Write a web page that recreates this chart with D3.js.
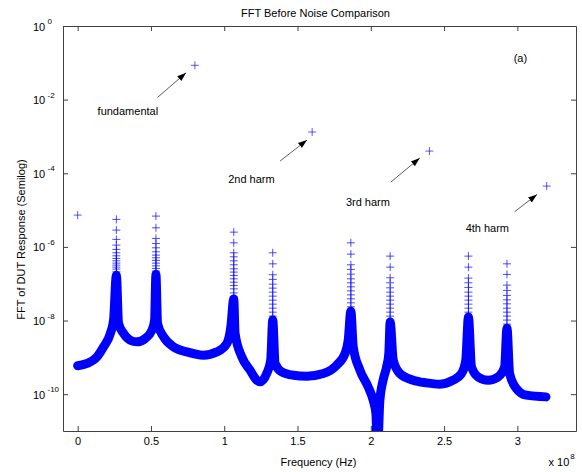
<!DOCTYPE html>
<html>
<head>
<meta charset="utf-8">
<script src="https://cdn.jsdelivr.net/npm/d3@7"></script>
<style>
	body { margin: 0; background: #fff; }
	svg { font-family: "Liberation Sans", Arial, Helvetica, sans-serif; }
</style>
</head>
<body>
<svg id="chart" width="582" height="472"></svg>
<script>
'use strict'

// band of the response (frequency in Hz, magnitude)
const curveFreq = [
	0, 0.064e8, 0.132e8, 0.177e8, 0.223e8, 0.245e8, 0.264e8, 0.279e8, 0.313e8, 0.359e8,
	0.405e8, 0.461e8, 0.507e8, 0.525e8, 0.534e8, 0.545e8, 0.586e8, 0.654e8, 0.745e8, 0.858e8,
	0.950e8, 1.018e8, 1.045e8, 1.065e8, 1.074e8, 1.120e8, 1.176e8, 1.222e8, 1.245e8, 1.290e8,
	1.317e8, 1.331e8, 1.347e8, 1.392e8, 1.471e8, 1.563e8, 1.676e8, 1.767e8, 1.824e8, 1.846e8,
	1.864e8, 1.880e8, 1.926e8, 1.982e8, 2.016e8, 2.035e8, 2.045e8, 2.062e8, 2.084e8, 2.108e8,
	2.123e8, 2.132e8, 2.153e8, 2.198e8, 2.289e8, 2.380e8, 2.471e8, 2.561e8, 2.619e8, 2.648e8,
	2.666e8, 2.687e8, 2.732e8, 2.800e8, 2.868e8, 2.913e8, 2.929e8, 2.947e8, 2.993e8, 3.061e8,
	3.195e8
]
const curveMag = [
	5.94e-10, 6.82e-10, 1.03e-9, 1.93e-9, 4.46e-9, 1.03e-8, 1.71e-7, 8.34e-9, 4.46e-9, 2.93e-9,
	2.64e-9, 3.27e-9, 5.48e-9, 1.03e-8, 1.82e-7, 8.34e-9, 3.61e-9, 1.93e-9, 1.41e-9, 1.15e-9,
	1.41e-9, 2.39e-9, 6.75e-9, 3.82e-8, 4.46e-9, 1.03e-9, 4.49e-10, 2.40e-10, 2.16e-10, 3.65e-10,
	8.39e-10, 1.03e-8, 6.82e-10, 4.04e-10, 3.28e-10, 3.08e-10, 3.65e-10, 6.14e-10, 1.28e-9, 2.93e-9,
	1.80e-8, 1.93e-9, 4.49e-10, 1.58e-10, 6.87e-11, 2.99e-11, 2.5e-12, 6.87e-11, 2.40e-10, 5.52e-10,
	1.28e-9, 9.06e-9, 8.39e-10, 3.65e-10, 2.40e-10, 2.03e-10, 1.87e-10, 2.40e-10, 3.65e-10, 8.39e-10,
	1.24e-8, 5.52e-10, 2.95e-10, 2.40e-10, 2.95e-10, 5.52e-10, 6.21e-9, 3.65e-10, 1.43e-10, 9.40e-11,
	8.45e-11
]

// separate markers climbing each spur
const spurFreq = [0.264e8, 0.534e8, 1.065e8, 1.331e8, 1.864e8, 2.132e8, 2.666e8, 2.929e8]
const spurMarkers = [
	[5.59e-6, 2.86e-6, 1.60e-6, 1.12e-6, 8.55e-7, 6.92e-7, 5.73e-7, 4.87e-7, 4.19e-7, 3.63e-7, 3.20e-7, 2.82e-7, 2.49e-7, 2.11e-7, 1.79e-7],
	[6.87e-6, 3.30e-6, 1.70e-6, 1.24e-6, 9.46e-7, 7.36e-7, 5.98e-7, 5.06e-7, 4.30e-7, 3.63e-7, 3.06e-7, 2.61e-7, 2.20e-7, 1.86e-7],
	[2.52e-6, 1.29e-6, 6.92e-7, 5.38e-7, 4.19e-7, 3.27e-7, 2.54e-7, 2.07e-7, 1.68e-7, 1.36e-7, 1.10e-7, 8.99e-8, 7.26e-8, 5.66e-8, 4.41e-8],
	[6.92e-7, 3.47e-7, 1.75e-7, 1.31e-7, 9.75e-8, 7.59e-8, 5.91e-8, 4.60e-8, 3.58e-8, 2.79e-8, 2.17e-8, 1.69e-8, 1.32e-8, 1.03e-8],
	[1.29e-6, 6.37e-7, 3.27e-7, 2.45e-7, 1.82e-7, 1.36e-7, 1.06e-7, 8.24e-8, 6.41e-8, 4.99e-8, 3.89e-8, 3.03e-8, 2.36e-8, 1.84e-8],
	[5.62e-7, 2.82e-7, 1.45e-7, 1.06e-7, 7.74e-8, 5.91e-8, 4.60e-8, 3.58e-8, 2.79e-8, 2.17e-8, 1.69e-8, 1.32e-8, 1.03e-8],
	[5.62e-7, 2.82e-7, 1.42e-7, 1.06e-7, 7.93e-8, 5.91e-8, 4.60e-8, 3.58e-8, 2.79e-8, 2.17e-8, 1.69e-8, 1.32e-8],
	[3.47e-7, 1.79e-7, 9.16e-8, 6.58e-8, 4.81e-8, 3.65e-8, 2.84e-8, 2.17e-8, 1.69e-8, 1.32e-8, 1.03e-8, 7.98e-9]
]

// DC and the four harmonics
const toneFreq = [0, 0.8e8, 1.6e8, 2.4e8, 3.2e8]
const toneMag = [7.31e-6, 8.55e-2, 1.32e-3, 4.01e-4, 4.49e-5]

const labelText = ['fundamental', '2nd harm', '3rd harm', '4th harm']
const labelFreq = [0.136e8, 1.027e8, 1.830e8, 2.647e8]
const labelMag = [3.82e-3, 5.42e-5, 1.28e-5, 2.52e-6]
const arrowFrom = [[0.545e8, 1.15e-2], [1.381e8, 2.15e-4], [2.137e8, 5.77e-5], [2.981e8, 8.99e-6]]
const arrowTo = [[0.740e8, 5.38e-2], [1.565e8, 7.98e-4], [2.334e8, 2.59e-4], [3.134e8, 2.67e-5]]

const xTicks = [0, 0.5e8, 1e8, 1.5e8, 2e8, 2.5e8, 3e8]
const xTickLabels = ['0', '0.5', '1', '1.5', '2', '2.5', '3']
const yTicks = [1e-10, 1e-8, 1e-6, 1e-4, 1e-2, 1]
const yTickExp = ['-10', '-8', '-6', '-4', '-2', '0']

const margin = {top: 26, right: 6, bottom: 41, left: 63}
const W = 582 - margin.left - margin.right
const H = 472 - margin.top - margin.bottom
const fontSize = 11
const blue = '#0000ff'
const axisColor = '#404040'

const svg = d3.select('#chart')
const g = svg.append('g')
	.attr('transform', `translate(${margin.left},${margin.top})`)

const x = d3.scaleLinear().domain([-0.1e8, 3.4e8]).range([0, W])
const y = d3.scaleLog().domain([1e-11, 1]).range([H, 0])

svg.append('defs').append('clipPath')
	.attr('id', 'plotClip')
	.append('rect')
	.attr('width', W)
	.attr('height', H)

svg.select('defs').append('marker')
	.attr('id', 'head')
	.attr('viewBox', '0 0 10 10')
	.attr('refX', 10)
	.attr('refY', 5)
	.attr('markerWidth', 9)
	.attr('markerHeight', 9)
	.attr('markerUnits', 'userSpaceOnUse')
	.attr('orient', 'auto')
	.append('path')
	.attr('d', 'M0,1.5 L10,5 L0,8.5 Z')
	.attr('fill', '#000')

function plus(px, py) {
	return `M${px - 4},${py}h8M${px},${py - 4}v8`
}

const plot = g.append('g').attr('clip-path', 'url(#plotClip)')

// thick band made of overlapping markers
const curve = curveFreq.map((f, i) => [f, curveMag[i]])
const band = d3.line()
	.x(function(d) {
		return x(d[0])
	})
	.y(function(d) {
		return y(d[1])
	})
	.curve(d3.curveMonotoneX)

plot.append('path')
	.datum(curve)
	.attr('d', band)
	.attr('fill', 'none')
	.attr('stroke', blue)
	.attr('stroke-width', 9)
	.attr('stroke-linejoin', 'round')
	.attr('stroke-linecap', 'round')

const spurPts = []
spurFreq.forEach((f, i) => {
	spurMarkers[i].forEach((v) => spurPts.push([f, v]))
})
const ends = [curve[0], curve[curve.length - 1]]

plot.append('path')
	.attr('d', spurPts.concat(ends).map((d) => plus(x(d[0]), y(d[1]))).join(''))
	.attr('fill', 'none')
	.attr('stroke', blue)
	.attr('stroke-opacity', 0.7)
	.attr('stroke-width', 1)

plot.append('path')
	.attr('d', toneFreq.map((f, i) => plus(x(f), y(toneMag[i]))).join(''))
	.attr('fill', 'none')
	.attr('stroke', blue)
	.attr('stroke-opacity', 0.65)
	.attr('stroke-width', 1)

// annotations
labelText.forEach((t, i) => {
	g.append('text')
		.attr('x', x(labelFreq[i]))
		.attr('y', y(labelMag[i]))
		.attr('font-size', fontSize)
		.text(t)
	g.append('line')
		.attr('x1', x(arrowFrom[i][0]))
		.attr('y1', y(arrowFrom[i][1]))
		.attr('x2', x(arrowTo[i][0]))
		.attr('y2', y(arrowTo[i][1]))
		.attr('stroke', '#333')
		.attr('stroke-width', 0.8)
		.attr('marker-end', 'url(#head)')
})

g.append('text')
	.attr('x', x(2.975e8))
	.attr('y', y(0.105))
	.attr('font-size', fontSize)
	.text('(a)')

// axes, ticks pointing inward on all four sides
const bottom = g.append('g')
	.attr('transform', `translate(0,${H})`)
	.call(d3.axisBottom(x).tickValues(xTicks).tickSize(-5).tickSizeOuter(0).tickPadding(6)
		.tickFormat((d, i) => xTickLabels[i]))
g.append('g')
	.call(d3.axisTop(x).tickValues(xTicks).tickSize(-5).tickSizeOuter(0).tickFormat(''))
const left = g.append('g')
	.call(d3.axisLeft(y).tickValues(yTicks).tickSize(-5).tickSizeOuter(0).tickFormat(''))
g.append('g')
	.attr('transform', `translate(${W},0)`)
	.call(d3.axisRight(y).tickValues(yTicks).tickSize(-5).tickSizeOuter(0).tickFormat(''))

g.selectAll('.domain, .tick line').attr('stroke', axisColor)
bottom.selectAll('text').attr('font-size', fontSize).attr('fill', '#000').attr('font-family', null)

left.selectAll('.tick').each(function(d, i) {
	const t = d3.select(this)
	t.append('text')
		.attr('x', 33 - margin.left)
		.attr('y', 4)
		.attr('font-size', fontSize)
		.attr('fill', '#000')
		.attr('font-family', null)
		.attr('text-anchor', 'start')
		.text('10')
	t.append('text')
		.attr('x', 47.5 - margin.left)
		.attr('y', -2.5)
		.attr('font-size', 8)
		.attr('fill', '#000')
		.attr('font-family', null)
		.attr('text-anchor', 'start')
		.text(yTickExp[i])
})

// titles
svg.append('text')
	.attr('x', 315.5)
	.attr('y', 17)
	.attr('text-anchor', 'middle')
	.attr('font-size', fontSize)
	.text('FFT Before Noise Comparison')

svg.append('text')
	.attr('x', 318.5)
	.attr('y', 466)
	.attr('text-anchor', 'middle')
	.attr('font-size', fontSize)
	.text('Frequency (Hz)')

const mult = svg.append('text')
	.attr('x', 548.5)
	.attr('y', 466)
	.attr('font-size', fontSize)
mult.append('tspan').text('x 10')
mult.append('tspan').attr('font-size', 8).attr('dy', -7).attr('dx', 1).text('8')

svg.append('text')
	.attr('transform', 'translate(24.5,239.5) rotate(-90)')
	.attr('text-anchor', 'middle')
	.attr('font-size', fontSize)
	.text('FFT of DUT Response (Semilog)')
</script>
</body>
</html>
